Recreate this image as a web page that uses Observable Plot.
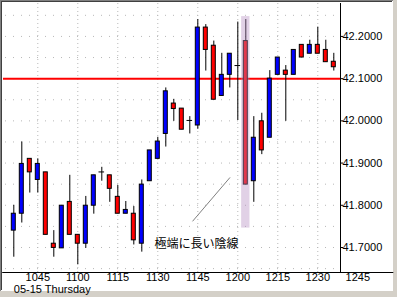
<!DOCTYPE html>
<html>
<head>
<meta charset="utf-8">
<script src="https://cdn.jsdelivr.net/npm/d3@7"></script>
<script src="https://cdn.jsdelivr.net/npm/@observablehq/plot@0.6"></script>
<style>
  html, body { margin: 0; padding: 0; background: #d4d0c8; }
  #wrap { position: relative; width: 397px; height: 297px; background: #d4d0c8; overflow: hidden; }
  #panel { position: absolute; left: 0; top: 0; width: 392px; height: 290px; background: #ffffff;
           border-left: 1px solid #808080; border-top: 1px solid #808080; }
  #panel2 { position: absolute; left: 1px; top: 1px; width: 391px; height: 289px;
           border-left: 1px solid #404040; border-top: 1px solid #404040; box-sizing: border-box; }
  #chart { position: absolute; left: 0; top: 0; }
</style>
</head>
<body>
<div id="wrap"><div id="panel"></div><div id="panel2"></div><div id="chart"></div></div>
<script>
// OHLC values for each bar (left to right)
const opens  = [41.740,41.780,41.910,41.860,41.878,41.709,41.698,41.808,41.730,41.709,41.799,41.879,41.871,41.820,41.780,41.780,41.709,41.857,41.910,41.969,42.041,42.029,42.001,41.989,42.221,42.178,42.059,42.109,42.131,42.189,41.857,41.999,41.960,42.109,42.119,42.109,42.180,42.159,42.180,42.168,42.140];
const highs  = [41.800,41.950,41.910,41.910,41.878,41.740,41.799,41.871,41.730,41.821,41.871,41.890,41.871,41.847,41.809,41.797,41.860,41.930,41.961,42.078,42.051,42.029,42.010,42.240,42.228,42.189,42.160,42.159,42.234,42.240,42.010,42.018,42.119,42.150,42.131,42.168,42.180,42.191,42.222,42.191,42.160];
const lows   = [41.677,41.758,41.829,41.829,41.730,41.677,41.698,41.730,41.659,41.698,41.779,41.857,41.807,41.780,41.780,41.706,41.689,41.857,41.910,41.938,41.999,41.979,41.969,41.980,42.118,42.050,42.059,42.078,42.001,41.849,41.807,41.920,41.960,42.109,41.999,42.109,42.150,42.159,42.159,42.139,42.118];
const closes = [41.780,41.898,41.878,41.898,41.730,41.699,41.799,41.730,41.709,41.799,41.871,41.879,41.839,41.780,41.789,41.717,41.849,41.930,41.951,42.070,42.028,41.979,42.001,42.221,42.168,42.050,42.109,42.159,42.131,41.849,41.960,41.930,42.100,42.150,42.109,42.168,42.150,42.180,42.159,42.139,42.127];

// time axis labels (bar index -> label)
const xTickIdx    = [3, 8, 13, 18, 23, 28, 33, 38, 43];
const xTickLabels = ["1045","1100","1115","1130","1145","1200","1215","1230","1245"];
const dateLabel   = "05-15 Thursday";

// price axis
const yTicks = [41.7, 41.8, 41.9, 42.0, 42.1, 42.2];
const yGrid  = [41.65, 41.70, 41.75, 41.80, 41.85, 41.90, 41.95, 42.00, 42.05, 42.10, 42.15, 42.20, 42.25];
const refLevel = [42.1];

// annotation
const highlightBars = [{i: 29, top: 42.247, bottom: 41.746}];
const noteLine = [{i1: 22.34, p1: 41.762, i2: 27.03, p2: 41.866}];
const noteText = [{i: 17.6, p: 41.709, text: "極端に長い陰線"}];

const bars = opens.map((o, i) => ({i, open: o, high: highs[i], low: lows[i], close: closes[i]}));
const bodies = bars.filter(d => d.open !== d.close);
const dojis = bars.filter(d => d.open === d.close);

const xDomain = [-1.2875, 40.8375];
const yDomain = [41.6408, 42.278];
const hw = 0.25;

const chart = Plot.plot({
  width: 397,
  height: 297,
  marginLeft: 3,
  marginRight: 57,
  marginTop: 3,
  marginBottom: 25,
  style: {background: "transparent", fontFamily: "'Liberation Sans', Arial, sans-serif", fontSize: "11px", color: "#000", overflow: "visible"},
  x: {type: "linear", domain: xDomain, axis: null},
  y: {domain: yDomain, axis: null},
  marks: [
    // grid
    Plot.ruleY(yGrid.filter(v => v > yDomain[0] && v < yDomain[1]), {stroke: "#b8b8b8", strokeDasharray: "1,7", strokeDashoffset: 6}),
    Plot.ruleX(xTickIdx.filter(v => v < xDomain[1]), {stroke: "#b8b8b8", strokeDasharray: "1,3"}),
    // reference line
    Plot.ruleY(refLevel, {stroke: "#ff0000", strokeWidth: 2}),
    // wicks
    Plot.ruleX(bars, {x: "i", y1: "low", y2: "high", stroke: "#000", strokeWidth: 1}),
    // bodies
    Plot.rect(bodies, {
      x1: d => d.i - hw, x2: d => d.i + hw,
      y1: "open", y2: "close",
      fill: d => d.close > d.open ? "#0000ff" : "#ff0000",
      stroke: "#000", strokeWidth: 1
    }),
    Plot.ruleY(dojis, {y: "open", x1: d => d.i - 0.35, x2: d => d.i + 0.35, stroke: "#000"}),
    // highlight
    Plot.rect(highlightBars, {x1: d => d.i - 0.52, x2: d => d.i + 0.52, y1: "bottom", y2: "top", fill: "#b48cc0", fillOpacity: 0.4}),
    // annotation
    Plot.link(noteLine, {x1: "i1", y1: "p1", x2: "i2", y2: "p2", stroke: "#808080", strokeWidth: 1}),
    Plot.text(noteText, {x: "i", y: "p", text: "text", textAnchor: "start", fontFamily: "'Noto Sans CJK JP', sans-serif", fontSize: 12, fill: "#000"}),
    // axes lines
    Plot.ruleX([xDomain[1]], {stroke: "#000"}),
    Plot.ruleY([yDomain[0]], {x1: xDomain[0] - 0.1, x2: xTickIdx[xTickIdx.length - 1] + 4.5, stroke: "#000"}),
    // right axis
    Plot.axisY(yTicks, {anchor: "right", tickFormat: d3.format(".4f"), tickSize: 2, tickPadding: 0, fontSize: 11, stroke: "#000", fill: "#000", label: null}),
    // bottom labels
    Plot.text(xTickIdx, {x: d => d, text: (d, k) => xTickLabels[k], frameAnchor: "bottom", dy: 5, lineAnchor: "middle", fontSize: 11, fill: "#000"}),
    Plot.text([dateLabel], {x: () => 0, text: d => d, frameAnchor: "bottom", dy: 16.5, lineAnchor: "middle", textAnchor: "start", fontSize: 11, fill: "#000"})
  ]
});
document.getElementById("chart").appendChild(chart);
</script>
</body>
</html>
